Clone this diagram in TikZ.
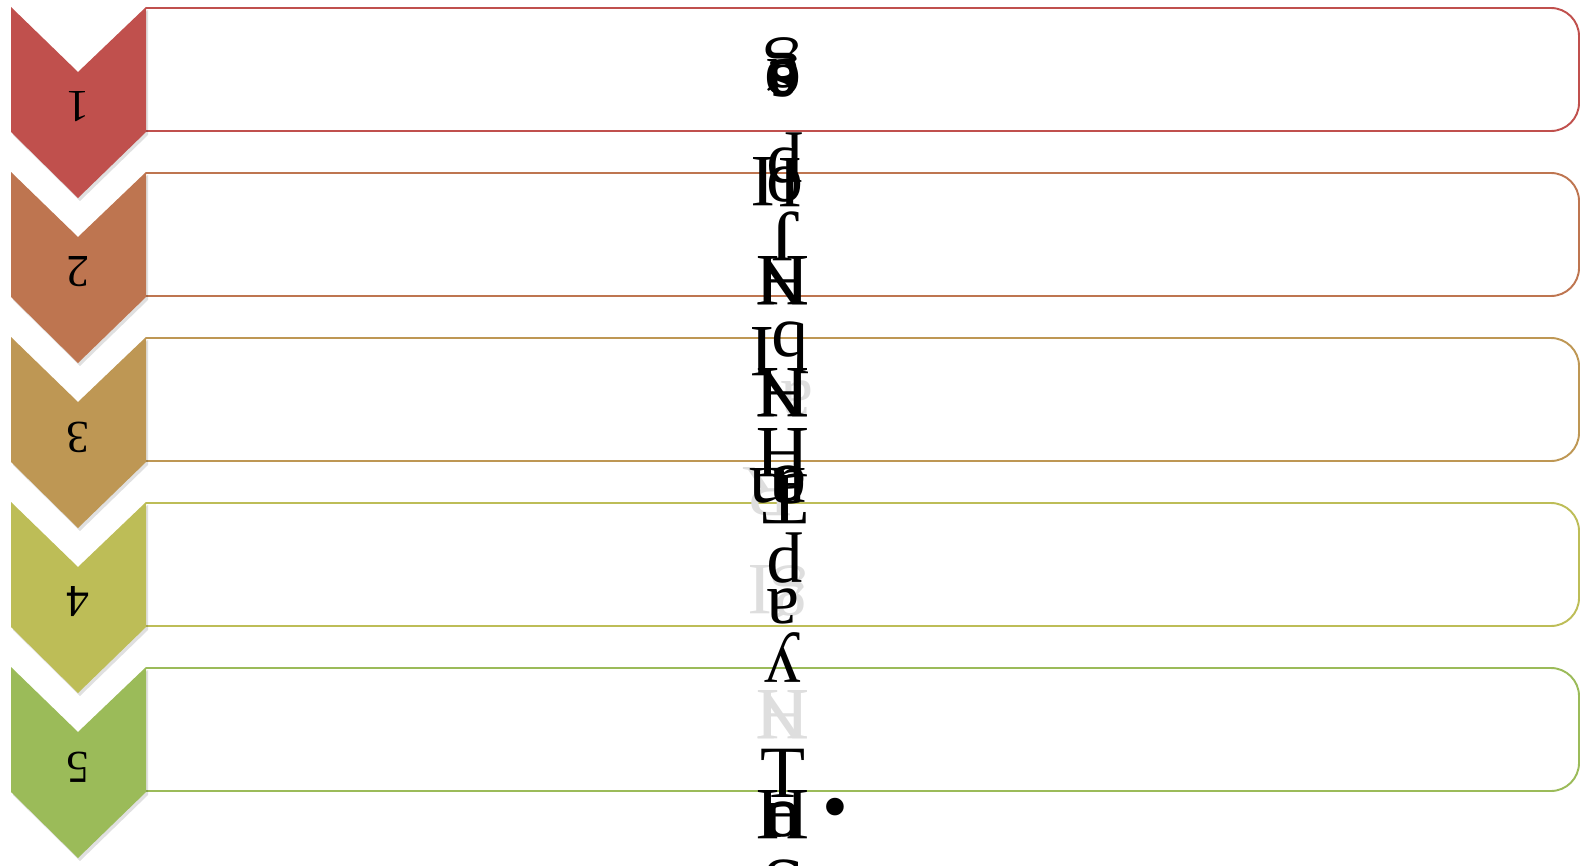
\documentclass[tikz,border=0pt]{standalone}
\usepackage{fontspec}
\setmainfont{Liberation Serif}
\usepackage{tikz}
\definecolor{rowA}{RGB}{192,80,77}
\definecolor{rowB}{RGB}{190,117,80}
\definecolor{rowC}{RGB}{190,151,84}
\definecolor{rowD}{RGB}{189,189,87}
\definecolor{rowE}{RGB}{155,187,89}
\definecolor{ghostgray}{RGB}{222,222,222}

\begin{document}
\begin{tikzpicture}[
    x=0.02cm, y=-0.02cm,
    rowbox/.style={line width=1.1pt, rounded corners=16},
    chevshadow/.style={black, opacity=0.12},
    numlbl/.style={rotate=180, font=\fontsize{26}{30}\selectfont, inner sep=0pt},
    glyphfont/.style={font=\fontsize{42}{48}\selectfont, inner sep=0pt},
    glyph/.style={glyphfont, rotate=180},
    ghost/.style={glyph, text=ghostgray}
  ]
  \useasboundingbox (0,0) rectangle (1581,865);

  % rows: open box on the right, chevron with its number on the left
  \foreach \n/\col [evaluate=\n as \t using 7+165*(\n-1)] in {1/rowA,2/rowB,3/rowC,4/rowD,5/rowE}{
    \draw[rowbox, draw=\col] (146,\t+1) -- (1579,\t+1) -- (1579,\t+124) -- (146,\t+124);
    \fill[chevshadow] (13,\t+3) -- (80,\t+68) -- (148,\t+3) -- (148,\t+128) -- (80,\t+194) -- (13,\t+128) -- cycle;
    \fill[\col] (11,\t) -- (78,\t+65) -- (146,\t) -- (146,\t+125) -- (78,\t+191) -- (11,\t+125) -- cycle;
    \node[numlbl] (num\n) at (78,\t+100) {\n};
  }

  % faint ghost letters behind the column
  \foreach \x/\y/\c [count=\k] in {797/398/a, 768/492/R, 760/590/I, 790/592/g, 783/715/H, 783/715/N}
    \node[ghost] (ghost\k) at (\x,\y) {\c};

  % the upside-down letters stacked in one column
  \foreach \x/\y/\c [count=\k] in {783/78/o, 783/78/e, 783/76/a, 783/64/g, 783/80/s,
      785/158/p, 763/182/I, 790/183/I, 785/185/o,
      786/236/J,
      783/281/H, 783/281/N,
      762/352/I, 790/348/b,
      783/393/H, 783/393/N,
      783/453/H, 778/486/m, 790/486/a, 790/484/e, 785/500/T,
      785/558/p, 783/606/a,
      783/657/y,
      783/815/H, 783/820/o, 783/820/u,
      783/885/S}
    \node[glyph] (gl\k) at (\x,\y) {\c};

  \node[glyphfont] (topT) at (783,773) {T};
  \node[glyphfont] (dot) at (835,815) {•};
\end{tikzpicture}
\end{document}
